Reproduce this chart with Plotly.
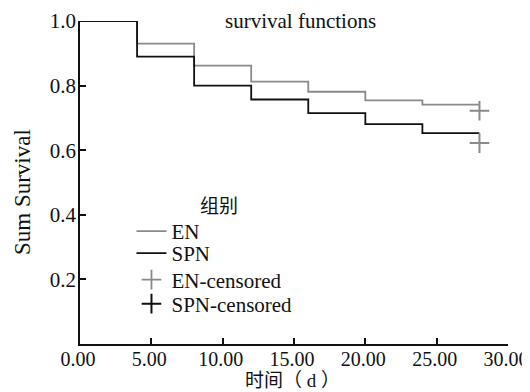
import plotly.graph_objects as go

# data
times = [0, 4, 8, 12, 16, 20, 24, 28]
en_surv = [1.0, 0.93, 0.862, 0.812, 0.781, 0.754, 0.741, 0.741]
spn_surv = [1.0, 0.89, 0.80, 0.757, 0.715, 0.681, 0.653, 0.653]
en_cens_t = [28]
en_cens_s = [0.722]
spn_cens_t = [28]
spn_cens_s = [0.622]
x_ticks = [0, 5, 10, 15, 20, 25, 30]
x_ticklabels = ["0.00", "5.00", "10.00", "15.00", "20.00", "25.00", "30.00"]
y_ticks = [0.2, 0.4, 0.6, 0.8, 1.0]
y_ticklabels = ["0.2", "0.4", "0.6", "0.8", "1.0"]

FONT = "Liberation Serif, Noto Sans CJK SC, serif"
GRAY = "#8a8a8a"
BLACK = "#111111"

# plot area in screen pixels (page body has an 8px margin)
OFF = 8
L, R, T, B = 79.5, 507.7, 21, 344
W, H = 530, 392


def px(xp):
    return (xp - L) / (R - L)


def py(yp):
    return (B - yp) / (B - T)


fig = go.Figure()
fig.add_trace(go.Scatter(x=times, y=en_surv, mode="lines", line_shape="hv",
                         line=dict(color=GRAY, width=1.8), name="EN", legend="legend"))
fig.add_trace(go.Scatter(x=times, y=spn_surv, mode="lines", line_shape="hv",
                         line=dict(color=BLACK, width=1.8), name="SPN", legend="legend2"))
# censored marks on chart (both drawn gray as in the reference)
fig.add_trace(go.Scatter(x=en_cens_t, y=en_cens_s, mode="markers", showlegend=False,
                         marker=dict(symbol="cross-thin", size=14, line=dict(color=GRAY, width=2))))
fig.add_trace(go.Scatter(x=spn_cens_t, y=spn_cens_s, mode="markers", showlegend=False,
                         marker=dict(symbol="cross-thin", size=14, line=dict(color=GRAY, width=2))))
# legend entries for censored
fig.add_trace(go.Scatter(x=[None], y=[None], mode="markers", name="EN-censored", legend="legend3",
                         marker=dict(symbol="cross-thin", size=14, line=dict(color=GRAY, width=1.8))))
fig.add_trace(go.Scatter(x=[None], y=[None], mode="markers", name="SPN-censored", legend="legend4",
                         marker=dict(symbol="cross-thin", size=14, line=dict(color=BLACK, width=2))))


def leg(ycenter):
    return dict(x=px(131), y=py(ycenter), xanchor="left", yanchor="middle",
                bgcolor="rgba(0,0,0,0)", font=dict(family=FONT, size=21),
                itemwidth=30)


fig.update_layout(
    width=W, height=H,
    margin=dict(l=L - OFF, r=W - (R - OFF), t=T - OFF, b=H - (B - OFF), autoexpand=False),
    paper_bgcolor="white", plot_bgcolor="white",
    font=dict(family=FONT, size=20, color="#111"),
    showlegend=True,
    legend=leg(231.5), legend2=leg(253.5), legend3=leg(280), legend4=leg(304),
    annotations=[
        dict(text="survival functions", x=px(300.5), xref="paper", y=py(21), yref="paper",
             yanchor="middle", showarrow=False, font=dict(family=FONT, size=21)),
        dict(text="组别", x=px(218.5), xref="paper", y=py(206.5), yref="paper",
             xanchor="center", yanchor="middle", showarrow=False, font=dict(family=FONT, size=19)),
        dict(text="时间（\u00a0d\u00a0）", x=px(292.5), xref="paper", y=py(380.5), yref="paper",
             xanchor="center", yanchor="middle", showarrow=False, font=dict(family=FONT, size=19)),
        dict(text="Sum Survival", x=px(22), xref="paper", y=py(192.5), yref="paper",
             xanchor="center", yanchor="middle", textangle=-90, showarrow=False,
             font=dict(family=FONT, size=23)),
    ],
)

fig.update_xaxes(range=[0, 30], tickvals=x_ticks, ticktext=x_ticklabels, automargin=False,
                 ticklabeloverflow="allow", ticklabelstandoff=-4, ticklabelshift=-2,
                 showline=True, linecolor=BLACK, linewidth=1.8, ticks="inside",
                 ticklen=6, tickwidth=1.8, tickcolor=BLACK, showgrid=False, zeroline=False,
                 tickfont=dict(family=FONT, size=20))
fig.update_yaxes(range=[0, 1.0], tickvals=y_ticks, ticktext=y_ticklabels, automargin=False,
                 ticklabeloverflow="allow", ticklabelstandoff=-2,
                 showline=True, linecolor=BLACK, linewidth=1.8, ticks="inside",
                 ticklen=6, tickwidth=1.8, tickcolor=BLACK, showgrid=False, zeroline=False,
                 tickfont=dict(family=FONT, size=21))

fig.write_html("out.html")
